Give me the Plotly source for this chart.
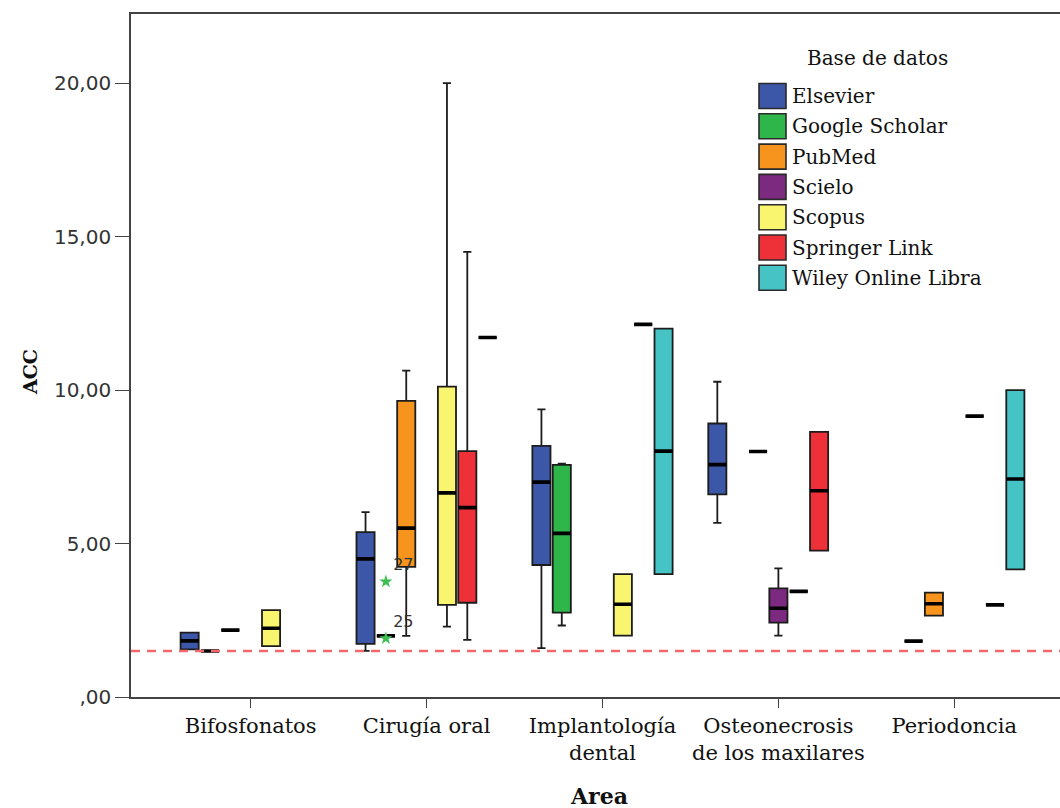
import plotly.graph_objects as go

# ---- data -----------------------------------------------------------------
AREAS = ["Bifosfonatos", "Cirugía oral", "Implantología<br>dental",
         "Osteonecrosis<br>de los maxilares", "Periodoncia"]

SERIES = ["Elsevier", "Google Scholar", "PubMed", "Scielo", "Scopus",
          "Springer Link", "Wiley Online Libra"]
COLORS = ["#3d57a8", "#2fb64b", "#f7941d", "#7b2a80", "#faf56f",
          "#ee3139", "#46c3c5"]

# box statistics per area: (lower whisker, Q1, median, Q3, upper whisker); None = no cases
ELSEVIER = [(1.55, 1.55, 1.83, 2.10, 2.10), (1.50, 1.73, 4.50, 5.37, 6.02),
            (1.59, 4.30, 7.00, 8.18, 9.37), (5.67, 6.60, 7.57, 8.91, 10.27), None]
GOOGLE_SCHOLAR = [(1.50, 1.50, 1.50, 1.50, 1.50), (1.99, 1.99, 1.99, 1.99, 1.99),
                  (2.33, 2.75, 5.33, 7.56, 7.60), None, (1.82, 1.82, 1.82, 1.82, 1.82)]
PUBMED = [(2.18, 2.18, 2.18, 2.18, 2.18), (1.99, 4.24, 5.50, 9.65, 10.63), None,
          (8.00, 8.00, 8.00, 8.00, 8.00), (2.65, 2.65, 3.04, 3.40, 3.40)]
SCIELO = [None, None, None, (2.00, 2.42, 2.89, 3.54, 4.19), None]
SCOPUS = [(1.66, 1.66, 2.24, 2.83, 2.83), (2.29, 3.00, 6.65, 10.11, 20.00),
          (2.00, 2.00, 3.02, 4.00, 4.00), (3.44, 3.44, 3.44, 3.44, 3.44),
          (9.15, 9.15, 9.15, 9.15, 9.15)]
SPRINGER_LINK = [None, (1.86, 3.07, 6.17, 8.01, 14.50), (12.14, 12.14, 12.14, 12.14, 12.14),
                 (4.77, 4.77, 6.72, 8.64, 8.64), (3.00, 3.00, 3.00, 3.00, 3.00)]
WILEY = [None, (11.71, 11.71, 11.71, 11.71, 11.71), (4.00, 4.00, 8.01, 12.00, 12.00),
         None, (4.16, 4.16, 7.10, 10.00, 10.00)]

STATS = [ELSEVIER, GOOGLE_SCHOLAR, PUBMED, SCIELO, SCOPUS, SPRINGER_LINK, WILEY]

# extreme values (Google Scholar, Cirugía oral) with their case numbers
OUTLIER_SERIES = 1
OUTLIER_AREA = 1
OUTLIER_VALUES = [3.76, 1.91]
OUTLIER_CASES = ["27", "25"]

REFERENCE_ACC = 1.5

Y_TICKS = [0, 5, 10, 15, 20]
Y_TICK_TEXT = [",00", "5,00", "10,00", "15,00", "20,00"]

# ---- layout constants -------------------------------------------------------
W, H = 1060, 808
PLOT_L, PLOT_T = 131, 14
PLOT_W, PLOT_H = 929, 683
BOXGAP, BOXGROUPGAP = 0.19, 0.11
SERIF = "DejaVu Serif"
SANS = "DejaVu Sans"


def px(xp):
    return (xp - PLOT_L) / PLOT_W


def py(yp):
    return (PLOT_T + PLOT_H - yp) / PLOT_H


fig = go.Figure()

# boxes with whiskers
for name, color, stats in zip(SERIES, COLORS, STATS):
    idx = [i for i, s in enumerate(stats) if s is not None]
    fig.add_trace(go.Box(
        x=idx,
        lowerfence=[stats[i][0] for i in idx],
        q1=[stats[i][1] for i in idx],
        median=[stats[i][2] for i in idx],
        q3=[stats[i][3] for i in idx],
        upperfence=[stats[i][4] for i in idx],
        name=name, offsetgroup=name, alignmentgroup="all",
        fillcolor=color, line=dict(color="#1c1c1c", width=1.8),
        whiskerwidth=0.45, showlegend=False, hoverinfo="skip",
    ))

# heavy median bars drawn on top
for name, stats in zip(SERIES, STATS):
    idx = [i for i, s in enumerate(stats) if s is not None]
    med = [stats[i][2] for i in idx]
    fig.add_trace(go.Box(
        x=idx, lowerfence=med, q1=med, median=med, q3=med, upperfence=med,
        name=name, offsetgroup=name, alignmentgroup="all",
        fillcolor="rgba(0,0,0,0)", line=dict(color="#000000", width=3.6),
        whiskerwidth=0, showlegend=False, hoverinfo="skip",
    ))

# extreme values, placed in the same slot as their box
n = len(SERIES)
slot_offset = (1 - BOXGAP) * (-0.5 + (OUTLIER_SERIES + 0.5) / n)
fig.add_trace(go.Scatter(
    x=[OUTLIER_AREA + slot_offset] * len(OUTLIER_VALUES),
    y=OUTLIER_VALUES,
    mode="markers+text",
    marker=dict(symbol="star", size=10, color="#3cc04f"),
    text=OUTLIER_CASES, textposition="top right",
    textfont=dict(family=SANS, size=16, color="#333333"),
    showlegend=False, hoverinfo="skip",
))

shapes = [dict(type="line", xref="paper", x0=0, x1=1, yref="y",
               y0=REFERENCE_ACC, y1=REFERENCE_ACC, layer="above",
               line=dict(color="#f2686c", width=2.6, dash="9px,7px"))]

annotations = [
    dict(text="<b>ACC</b>", xref="paper", yref="paper", x=px(30), y=py(372),
         textangle=-90, showarrow=False, xanchor="center", yanchor="middle",
         font=dict(family=SERIF, size=19, color="#111111")),
    dict(text="<b>Area</b>", xref="paper", yref="paper", x=px(599), y=py(796),
         showarrow=False, xanchor="center", yanchor="middle",
         font=dict(family=SERIF, size=22, color="#111111")),
    dict(text="Base de datos", xref="paper", yref="paper", x=px(877), y=py(58),
         showarrow=False, xanchor="center", yanchor="middle",
         font=dict(family=SERIF, size=20, color="#111111")),
]

# legend swatches and labels
for i, (name, color) in enumerate(zip(SERIES, COLORS)):
    top = 83.5 + 30.3 * i
    shapes.append(dict(type="rect", xref="paper", yref="paper",
                       x0=px(759), x1=px(786), y0=py(top), y1=py(top + 25),
                       fillcolor=color, line=dict(color="#2a2a2a", width=1.6)))
    annotations.append(dict(text=name, xref="paper", yref="paper",
                            x=px(790), y=py(top + 12.5), showarrow=False,
                            xanchor="left", yanchor="middle",
                            font=dict(family=SERIF, size=20, color="#111111")))

fig.update_layout(
    width=W, height=H,
    margin=dict(l=PLOT_L, r=W - PLOT_L - PLOT_W, t=PLOT_T, b=H - PLOT_T - PLOT_H),
    paper_bgcolor="white", plot_bgcolor="white",
    boxmode="group", boxgap=BOXGAP, boxgroupgap=BOXGROUPGAP,
    showlegend=False,
    shapes=shapes, annotations=annotations,
    xaxis=dict(
        range=[-0.6805, 4.601], tickmode="array",
        tickvals=list(range(len(AREAS))), ticktext=AREAS,
        showgrid=False, zeroline=False,
        showline=True, linecolor="#444444", linewidth=1.6, mirror=True,
        ticks="outside", ticklen=9, tickwidth=1.4, tickcolor="#444444",
        tickfont=dict(family=SERIF, size=21, color="#111111"),
    ),
    yaxis=dict(
        range=[0, 22.25], tickmode="array",
        tickvals=Y_TICKS, ticktext=Y_TICK_TEXT,
        showgrid=False, zeroline=False,
        showline=True, linecolor="#444444", linewidth=1.6,
        ticks="outside", ticklen=14, tickwidth=1.4, tickcolor="#444444",
        tickfont=dict(family=SANS, size=20, color="#333333"),
    ),
)

fig.write_html("out.html")
